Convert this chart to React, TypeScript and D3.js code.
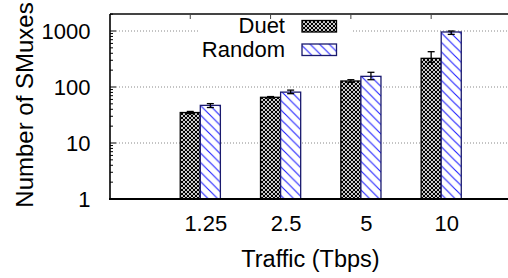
import React from "react";
import * as d3 from "d3";

const categories = ["1.25", "2.5", "5", "10"];
const duetValues = [35, 65.5, 128, 325];
const duetLow = [33.5, 63.5, 121, 276];
const duetHigh = [36.6, 67.5, 135, 427];
const randomValues = [47, 81, 155, 960];
const randomLow = [43, 76, 135, 870];
const randomHigh = [50.5, 88, 183, 1000];
const yTicks = [1, 10, 100, 1000];
const seriesNames = ["Duet", "Random"];

const W = 508;
const H = 278;
const left = 110;
const right = 520;
const top = 14;
const bottom = 199;

export default function App() {
  const y = d3.scaleLog().domain([1, 1000]).range([bottom, 31]);
  const x = d3.scaleLinear().domain([0, 3]).range([200.3, 441.2]);
  const unit = x(1) - x(0);
  const barW = unit * 0.25;

  const minor: number[] = [];
  for (let d = 1; d <= 1000; d *= 10) {
    for (let k = 2; k <= 9; k++) {
      const v = d * k;
      if (y(v) > top) minor.push(v);
    }
  }
  const font = "'Liberation Sans', Arial, Helvetica, sans-serif";

  const errBar = (cx: number, lo: number, hi: number, key: string) => (
    <g key={key} stroke="#000" strokeWidth={1.3}>
      <line x1={cx} x2={cx} y1={y(lo)} y2={y(hi)} />
      <line x1={cx - 3.5} x2={cx + 3.5} y1={y(lo)} y2={y(lo)} />
      <line x1={cx - 3.5} x2={cx + 3.5} y1={y(hi)} y2={y(hi)} />
    </g>
  );

  return (
    <svg width={W} height={H} style={{ position: "absolute", left: 0, top: 0 }} fontFamily={font}>
      <defs>
        <pattern id="xhatch" patternUnits="userSpaceOnUse" width={4} height={4}>
          <rect width={4} height={4} fill="#000" />
          <circle cx={2} cy={0} r={1.05} fill="#fff" />
          <circle cx={0} cy={2} r={1.05} fill="#fff" />
          <circle cx={4} cy={2} r={1.05} fill="#fff" />
          <circle cx={2} cy={4} r={1.05} fill="#fff" />
        </pattern>
        <pattern id="diag" patternUnits="userSpaceOnUse" width={9.5} height={9.5}>
          <rect width={9.5} height={9.5} fill="#fff" />
          <path d="M0,0 L9.5,9.5 M-1,8.5 L1,10.5 M8.5,-1 L10.5,1" stroke="#1f1fff" strokeWidth={1.1} />
        </pattern>
      </defs>
      <rect width={W} height={H} fill="#fff" />

      {/* grid */}
      {yTicks.slice(1).map((t) => (
        <line key={"g" + t} x1={left + 6} x2={right} y1={y(t)} y2={y(t)} stroke="#888" strokeWidth={1} strokeDasharray="1,2" />
      ))}

      {/* legend background */}
      <rect x={200} y={16} width={151} height={44} fill="#fff" />

      {/* bars */}
      {categories.map((c, i) => {
        const cx = x(i);
        return (
          <g key={c}>
            <rect x={cx - barW} y={y(duetValues[i])} width={barW} height={bottom - y(duetValues[i])} fill="url(#xhatch)" stroke="#000" strokeWidth={1.3} />
            <rect x={cx} y={y(randomValues[i])} width={barW} height={bottom - y(randomValues[i])} fill="url(#diag)" stroke="#1a1a6e" strokeWidth={1.3} />
            {errBar(cx - barW / 2, duetLow[i], duetHigh[i], "ed" + i)}
            {errBar(cx + barW / 2, randomLow[i], randomHigh[i], "er" + i)}
          </g>
        );
      })}

      {/* frame */}
      <line x1={left} x2={right} y1={top} y2={top} stroke="#444" strokeWidth={2} />
      <line x1={left} x2={left} y1={top} y2={bottom} stroke="#000" strokeWidth={1.6} />
      <line x1={left - 1} x2={right} y1={bottom} y2={bottom} stroke="#000" strokeWidth={2} />

      {/* y ticks */}
      {yTicks.map((t) => (
        <g key={"t" + t}>
          <line x1={left} x2={left + 6} y1={y(t)} y2={y(t)} stroke="#000" strokeWidth={1} />
          <text x={90.5} y={y(t)} dy="0.35em" textAnchor="end" fontSize={22}>{t}</text>
        </g>
      ))}
      {minor.map((v) => (
        <line key={"m" + v} x1={left} x2={left + 3} y1={y(v)} y2={y(v)} stroke="#000" strokeWidth={1} />
      ))}

      {/* top ticks and x labels */}
      {categories.map((c, i) => (
        <g key={"x" + c}>
          <line x1={x(i) - barW / 2} x2={x(i) - barW / 2} y1={top} y2={top + 5} stroke="#444" strokeWidth={1} />
          <text x={x(i) + 5.5} y={231} textAnchor="middle" fontSize={22}>{c}</text>
        </g>
      ))}

      {/* legend */}
      <text x={285} y={33} textAnchor="end" fontSize={22}>{seriesNames[0]}</text>
      <text x={285} y={56.5} textAnchor="end" fontSize={22}>{seriesNames[1]}</text>
      <rect x={302} y={20.5} width={34.5} height={11.5} fill="url(#xhatch)" stroke="#000" strokeWidth={1.3} />
      <rect x={302} y={44} width={34.5} height={11.5} fill="url(#diag)" stroke="#1a1a6e" strokeWidth={1.3} />

      {/* titles */}
      <text x={310.5} y={267} textAnchor="middle" fontSize={23.5}>Traffic (Tbps)</text>
      <text transform={`translate(33,105) rotate(-90)`} textAnchor="middle" fontSize={24}>Number of SMuxes</text>
    </svg>
  );
}
